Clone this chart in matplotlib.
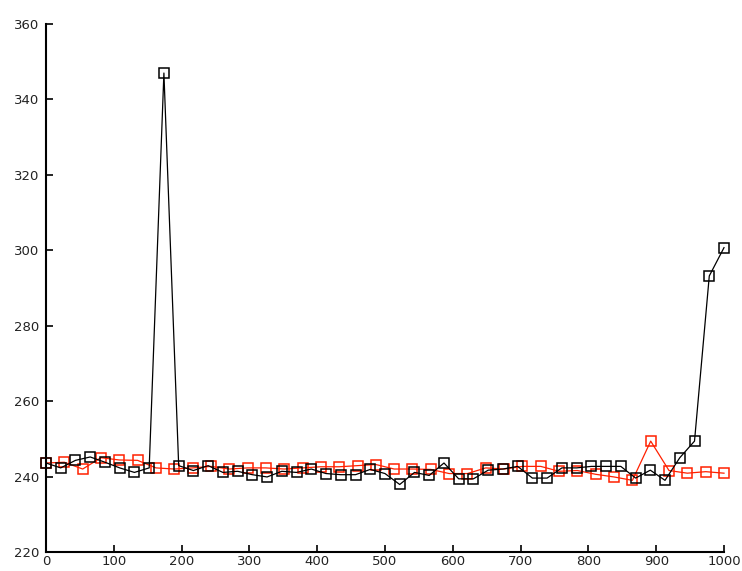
import matplotlib
matplotlib.use("Agg")
import matplotlib.pyplot as plt

black_x = [0.0, 21.7, 43.5, 65.2, 87.0, 108.7, 130.4, 152.2, 173.9, 195.7,
           217.4, 239.1, 260.9, 282.6, 304.3, 326.1, 347.8, 369.6, 391.3, 413.0,
           434.8, 456.5, 478.3, 500.0, 521.7, 543.5, 565.2, 587.0, 608.7, 630.4,
           652.2, 673.9, 695.7, 717.4, 739.1, 760.9, 782.6, 804.3, 826.1, 847.8,
           869.6, 891.3, 913.0, 934.8, 956.5, 978.3, 1000.0]
black_y = [243.6, 242.3, 244.3, 245.2, 243.8, 242.3, 241.1, 242.3, 347.0, 242.9,
           241.6, 242.9, 241.1, 241.4, 240.5, 239.9, 241.4, 241.1, 242.0, 240.8,
           240.5, 240.5, 241.9, 240.8, 237.9, 241.1, 240.3, 243.6, 239.4, 239.4,
           241.7, 242.0, 242.7, 239.6, 239.6, 242.3, 242.3, 242.7, 242.7, 242.7,
           239.6, 241.7, 239.0, 245.0, 249.4, 293.2, 300.7]

red_x = [0.0, 27.0, 54.1, 81.1, 108.1, 135.1, 162.2, 189.2, 216.2, 243.2,
         270.3, 297.3, 324.3, 351.4, 378.4, 405.4, 432.4, 459.5, 486.5, 513.5,
         540.5, 567.6, 594.6, 621.6, 648.6, 675.7, 702.7, 729.7, 756.8, 783.8,
         810.8, 837.8, 864.9, 891.9, 918.9, 945.9, 973.0, 1000.0]
red_y = [243.6, 243.8, 242.0, 245.0, 244.4, 244.3, 242.3, 242.0, 242.3, 242.7,
         242.0, 242.3, 242.3, 242.0, 242.3, 242.6, 242.6, 242.9, 243.2, 242.0,
         242.0, 241.9, 240.8, 240.8, 242.3, 242.0, 242.7, 242.7, 241.4, 241.6,
         240.6, 239.9, 239.0, 249.4, 241.6, 240.9, 241.3, 240.9]

x_ticks = [0, 100, 200, 300, 400, 500, 600, 700, 800, 900, 1000]
y_ticks = [220, 240, 260, 280, 300, 320, 340, 360]

fig = plt.figure(figsize=(7.42, 5.71), dpi=100)
ax = fig.add_axes([46 / 742, 19 / 571, 678 / 742, 528 / 571])

ax.plot(red_x, red_y, color="#ff2000", lw=0.9, marker="s", ms=7.5,
        mfc="none", mec="#ff2000", mew=1.1, clip_on=False)
ax.plot(black_x, black_y, color="black", lw=0.9, marker="s", ms=7.5,
        mfc="none", mec="black", mew=1.1, clip_on=False)

ax.set_xlim(0, 1000)
ax.set_ylim(220, 360)
ax.set_xticks(x_ticks)
ax.set_yticks(y_ticks)
for s in ["top", "right"]:
    ax.spines[s].set_visible(False)
for s in ["left", "bottom"]:
    ax.spines[s].set_linewidth(1.5)
ax.tick_params(direction="in", length=5, width=1.2, labelsize=9.5,
               labelcolor="#222222")
ax.tick_params(axis="y", pad=5)
ax.tick_params(axis="x", pad=2)
for lab in ax.get_xticklabels() + ax.get_yticklabels():
    lab.set_fontfamily("DejaVu Sans")

fig.savefig("out.png", dpi=100)
